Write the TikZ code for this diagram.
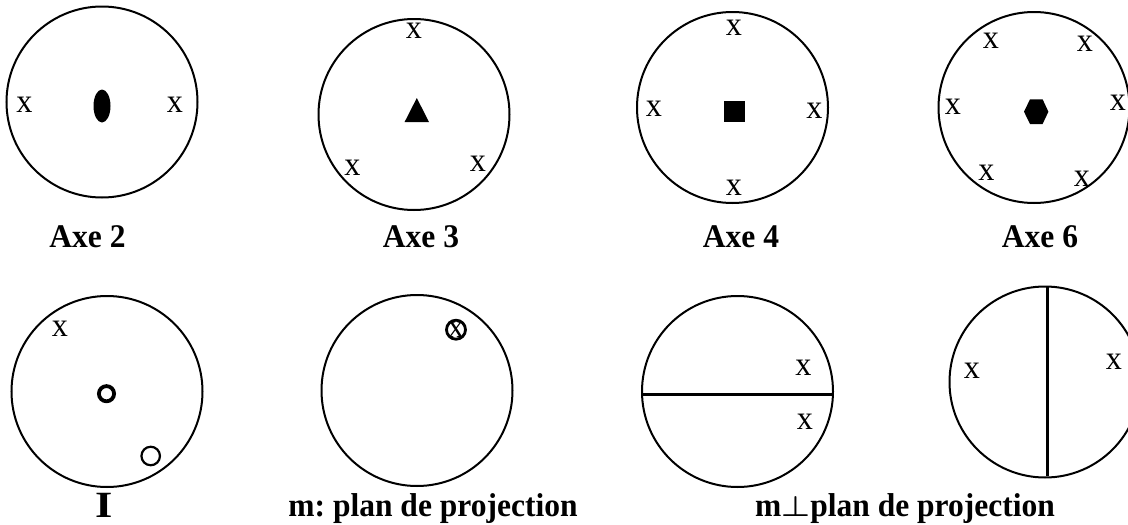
\documentclass[tikz,border=0pt]{standalone}
\usepackage{graphicx}
\usepackage{fontspec}
\setmainfont{Liberation Serif}
\usetikzlibrary{shapes.geometric}
\newcommand{\tallx}{\scalebox{1.15}[1.2]{x}}
\newcommand{\tallcap}[1]{\scalebox{1}[1.05]{#1}}
\tikzset{
  disc/.style={circle,draw=black,line width=2pt,minimum size=191pt,inner sep=0pt,outer sep=0pt},
  mk/.style={inner sep=0pt,outer sep=0pt,font=\fontsize{28}{28}\selectfont},
  captxt/.style={inner sep=0pt,outer sep=0pt,anchor=base,font=\fontsize{31.5}{32}\selectfont\bfseries\frenchspacing},
  solidshape/.style={fill=black,draw=none},
  ring/.style={circle,draw=black,inner sep=0pt,outer sep=0pt},
  mirror/.style={line width=3pt,draw=black}
}
\begin{document}
\begin{tikzpicture}[x=1pt,y=-1pt]
\useasboundingbox (0,0) rectangle (1128,525);
% circles
\node[disc] (a2) at (102,102) {};
\node[disc] (a3) at (414,114.5) {};
\node[disc] (a4) at (732.5,107.5) {};
\node[disc] (a6) at (1034,107.5) {};
\node[disc] (inv) at (107,391.5) {};
\node[disc] (mp) at (417,390.5) {};
\node[disc] (mh) at (737.5,391.5) {};
\node[disc] (mv) at (1045,382) {};
% Axe 2
\node[mk] (a2l) at (24.5,105) {\tallx};
\node[mk] (a2r) at (175,105) {\tallx};
\node[ellipse,solidshape,minimum width=17pt,minimum height=33pt,inner sep=0pt] (a2c) at (102,106) {};
% Axe 3
\node[mk] (a3t) at (414,30.7) {\tallx};
\node[mk] (a3l) at (352.5,167.7) {\tallx};
\node[mk] (a3r) at (478,163.7) {\tallx};
\fill (416.8,98) -- (429,122) -- (404.6,122) -- cycle;
% Axe 4
\node[mk] (a4t) at (734,27.7) {\tallx};
\node[mk] (a4l) at (654,109) {\tallx};
\node[mk] (a4r) at (814.3,111) {\tallx};
\node[mk] (a4b) at (734,188) {\tallx};
\fill (723.8,101) rectangle (745,122);
% Axe 6
\node[mk] (a6a) at (991,41) {\tallx};
\node[mk] (a6b) at (1085,43.7) {\tallx};
\node[mk] (a6c) at (953,106.7) {\tallx};
\node[mk] (a6d) at (1118,102.7) {\tallx};
\node[mk] (a6e) at (986.5,172.7) {\tallx};
\node[mk] (a6f) at (1082,179) {\tallx};
\fill (1024,111.7) -- (1030,99.3) -- (1042.6,99.3) -- (1048.4,111.7) -- (1042.6,124) -- (1030,124) -- cycle;
% inversion
\node[mk] (ix) at (60,329) {\tallx};
\node[ring,line width=3.8pt,minimum size=15.2pt] (ic) at (106.5,393.7) {};
\node[ring,line width=2.2pt,minimum size=18.5pt] (io) at (150.7,456) {};
% m plan
\node[ring,line width=2.8pt,minimum size=19pt] (mc) at (456,329.7) {};
\node[mk] (mx) at (456,329.7) {\tallx};
% m perpendicular
\node[mk] (mh1) at (803.5,368) {\tallx};
\node[mk] (mh2) at (805,422) {\tallx};
\coordinate (mhl) at (642,394);
\coordinate (mhr) at (833,394);
\draw[mirror] (mhl) -- (mhr);
\node[mk] (mv1) at (972,371) {\tallx};
\node[mk] (mv2) at (1114,362) {\tallx};
\coordinate (mvt) at (1047,286);
\coordinate (mvb) at (1047,475.6);
\draw[mirror] (mvt) -- (mvb);
% captions
\node[captxt] (c2) at (87.5,247) {\tallcap{Axe 2}};
\node[captxt] (c3) at (421,247) {\tallcap{Axe 3}};
\node[captxt] (c4) at (741,247) {\tallcap{Axe 4}};
\node[captxt] (c6) at (1040,247) {\tallcap{Axe 6}};
\node[captxt,font=\fontsize{37}{38}\selectfont\bfseries] (ci) at (104,517) {\scalebox{1.2}[1]{I}};
\node[captxt] (cm) at (433,516.7) {\tallcap{m: plan de projection}};
\node[captxt] (cp) at (905,516.7) {\tallcap{m\scalebox{1.3}[1.1]{\boldmath$\perp$}plan de projection}};
\end{tikzpicture}
\end{document}
